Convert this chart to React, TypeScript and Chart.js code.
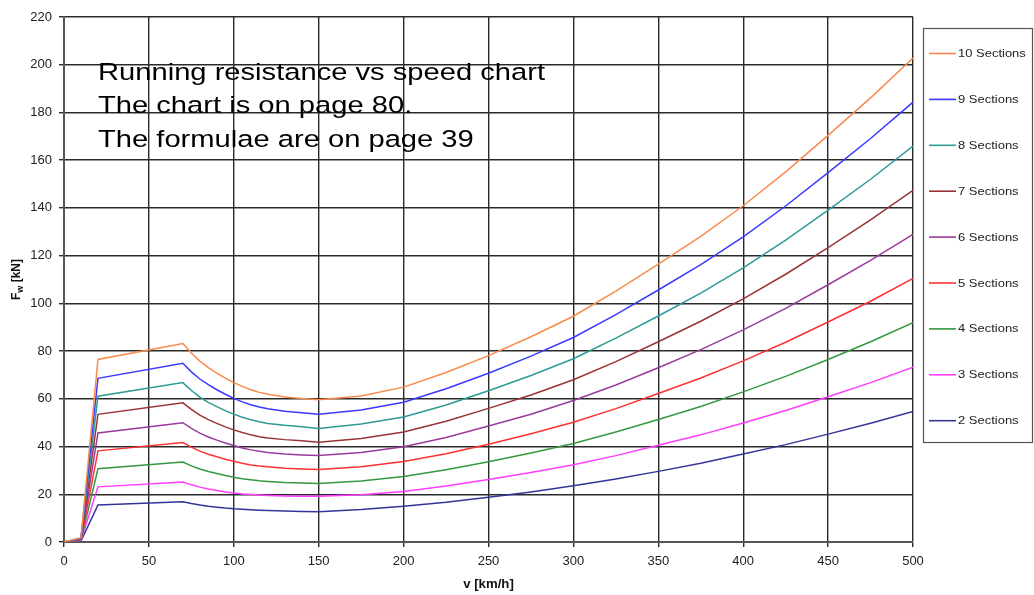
import React, { useEffect, useRef } from "react";
import { Chart, registerables } from "chart.js";

Chart.register(...registerables);

// Speeds (km/h) at which the curves were read
const SPEEDS = [0, 10, 20, 70, 75, 80, 85, 90, 95, 100, 105, 110, 115, 120, 130, 140, 150, 175, 200, 225, 250, 275, 300, 325, 350, 375, 400, 425, 450, 475, 500];

// Running resistance F_w (kN) per number of sections
const S10 = [0, 1.8, 76.5, 83.2, 79.2, 75.8, 73.1, 70.8, 68.7, 66.8, 65.2, 63.8, 62.7, 61.9, 60.8, 60.1, 59.6, 61.2, 64.9, 71.0, 78.1, 86.0, 94.6, 105.1, 116.4, 128.1, 140.9, 155.1, 170.4, 186.1, 202.8];
const S9 = [0, 1.6, 68.6, 74.9, 71.3, 68.3, 65.9, 63.8, 61.9, 60.2, 58.7, 57.5, 56.55, 55.8, 54.8, 54.2, 53.5, 55.3, 58.6, 64.2, 70.7, 77.9, 85.7, 95.3, 105.6, 116.2, 127.9, 140.8, 154.8, 169.1, 184.3];
const S8 = [0, 1.4, 61.1, 66.8, 63.5, 60.7, 58.5, 56.7, 55.05, 53.6, 52.3, 51.2, 50.35, 49.7, 48.9, 48.3, 47.6, 49.4, 52.4, 57.4, 63.4, 69.8, 76.8, 85.4, 94.7, 104.3, 114.9, 126.5, 139.1, 152.0, 165.9];
const S7 = [0, 1.3, 53.5, 58.3, 55.55, 53.2, 51.3, 49.7, 48.25, 47.0, 45.85, 44.9, 44.15, 43.6, 42.9, 42.4, 41.8, 43.4, 46.1, 50.6, 56.0, 61.6, 68.0, 75.6, 83.9, 92.5, 101.9, 112.2, 123.4, 135.0, 147.4];
const S6 = [0, 1.1, 45.7, 50.0, 47.6, 45.6, 44.0, 42.7, 41.5, 40.4, 39.4, 38.6, 38.0, 37.5, 36.9, 36.5, 36.2, 37.5, 39.9, 43.8, 48.6, 53.5, 59.3, 65.8, 73.0, 80.6, 88.9, 97.9, 107.8, 118.0, 128.9];
const S5 = [0, 0.9, 38.2, 41.7, 39.75, 38.1, 36.8, 35.7, 34.7, 33.8, 33.0, 32.3, 31.85, 31.5, 30.9, 30.6, 30.4, 31.5, 33.7, 37.0, 41.0, 45.4, 50.2, 55.9, 62.2, 68.7, 75.9, 83.7, 92.2, 100.9, 110.5];
const S4 = [0, 0.7, 30.7, 33.5, 31.9, 30.6, 29.55, 28.7, 27.85, 27.1, 26.55, 26.1, 25.7, 25.4, 24.9, 24.7, 24.5, 25.6, 27.4, 30.3, 33.6, 37.3, 41.3, 46.1, 51.3, 56.8, 62.9, 69.4, 76.5, 83.9, 91.9];
const S3 = [0, 0.6, 23.1, 25.1, 23.95, 23.0, 22.25, 21.6, 21.0, 20.5, 20.15, 19.9, 19.67, 19.5, 19.3, 19.2, 19.2, 19.8, 21.2, 23.5, 26.2, 29.1, 32.4, 36.2, 40.5, 44.9, 49.9, 55.1, 60.9, 66.8, 73.2];
const S2 = [0, 0.4, 15.5, 16.9, 16.15, 15.5, 15.0, 14.6, 14.2, 13.9, 13.7, 13.5, 13.35, 13.2, 13.0, 12.8, 12.7, 13.6, 15.0, 16.7, 18.8, 21.0, 23.6, 26.4, 29.6, 33.0, 36.9, 40.8, 45.2, 49.8, 54.7];

const SERIES_LABELS = ["10 Sections", "9 Sections", "8 Sections", "7 Sections", "6 Sections", "5 Sections", "4 Sections", "3 Sections", "2 Sections"];
const SERIES_VALUES = [S10, S9, S8, S7, S6, S5, S4, S3, S2];
const SERIES_COLORS = ["#FA8A4C", "#3A3AFF", "#2E9A96", "#9A3434", "#9A3A9E", "#FF3030", "#34983E", "#FF3CFF", "#34349A"];

const NOTE_LINES = ["Running resistance vs speed chart", "The chart is on page 80.", "The formulae are on page 39"];
const X_TITLE = "v [km/h]";
const Y_TITLE = ["F", "w", " [kN]"];

const FONT = '"Liberation Sans", Arial, Helvetica, sans-serif';

const overlayPlugin = {
  id: "overlay",
  afterDraw(chart: any) {
    const ctx: CanvasRenderingContext2D = chart.ctx;
    const area = chart.chartArea;

    // Note text
    ctx.save();
    ctx.fillStyle = "#000";
    ctx.font = `24.5px ${FONT}`;
    ctx.textBaseline = "alphabetic";
    const w0 = ctx.measureText(NOTE_LINES[0]).width;
    const sx = 447 / w0;
    NOTE_LINES.forEach((t, i) => {
      ctx.save();
      ctx.translate(98, 79.5 + i * 33.6);
      ctx.scale(sx, 1);
      ctx.fillText(t, 0, 0);
      ctx.restore();
    });
    ctx.restore();

    // Legend box
    ctx.save();
    const lx = 923.5, ly = 28.5, lw = 109, lh = 414;
    ctx.fillStyle = "#fff";
    ctx.fillRect(lx, ly, lw, lh);
    ctx.strokeStyle = "#555";
    ctx.lineWidth = 1.2;
    ctx.strokeRect(lx, ly, lw, lh);
    chart.data.datasets.forEach((ds: any, i: number) => {
      const y = 53.5 + i * 45.9;
      ctx.strokeStyle = ds.borderColor;
      ctx.lineWidth = 1.6;
      ctx.beginPath();
      ctx.moveTo(929, y);
      ctx.lineTo(956, y);
      ctx.stroke();
      ctx.save();
      ctx.translate(958, y + 0.5);
      ctx.scale(1.18, 1);
      ctx.fillStyle = "#222";
      ctx.font = `11px ${FONT}`;
      ctx.textBaseline = "middle";
      ctx.fillText(ds.label, 0, 0);
      ctx.restore();
    });
    ctx.restore();

    // X title
    ctx.save();
    ctx.fillStyle = "#111";
    ctx.font = `bold 12px ${FONT}`;
    ctx.textBaseline = "middle";
    const xw = ctx.measureText(X_TITLE).width * 1.1;
    ctx.translate((area.left + area.right) / 2 - xw / 2, 585);
    ctx.scale(1.1, 1);
    ctx.fillText(X_TITLE, 0, 0);
    ctx.restore();

    // Y title (rotated, with subscript)
    ctx.save();
    ctx.fillStyle = "#111";
    ctx.textBaseline = "alphabetic";
    ctx.font = `bold 12px ${FONT}`;
    const wF = ctx.measureText(Y_TITLE[0]).width;
    const wU = ctx.measureText(Y_TITLE[2]).width;
    ctx.font = `bold 9px ${FONT}`;
    const wS = ctx.measureText(Y_TITLE[1]).width;
    const total = wF + wS + wU;
    ctx.translate(20, (area.top + area.bottom) / 2 + total / 2);
    ctx.rotate(-Math.PI / 2);
    ctx.font = `bold 12px ${FONT}`;
    ctx.fillText(Y_TITLE[0], 0, 0);
    ctx.font = `bold 9px ${FONT}`;
    ctx.fillText(Y_TITLE[1], wF, 3);
    ctx.font = `bold 12px ${FONT}`;
    ctx.fillText(Y_TITLE[2], wF + wS, 0);
    ctx.restore();
  },
};

export default function App() {
  const ref = useRef<HTMLCanvasElement | null>(null);

  useEffect(() => {
    if (!ref.current) return;
    const datasets = SERIES_LABELS.map((label, i) => ({
      label,
      data: SPEEDS.map((v, j) => ({ x: v, y: SERIES_VALUES[i][j] })),
      borderColor: SERIES_COLORS[i],
      backgroundColor: SERIES_COLORS[i],
      borderWidth: 1.5,
      pointRadius: 0,
      tension: 0,
      fill: false,
    }));

    const chart = new Chart(ref.current, {
      type: "line",
      data: { datasets },
      options: {
        animation: false,
        responsive: false,
        maintainAspectRatio: false,
        layout: { padding: { left: 0, right: 121, top: 17, bottom: 0 } },
        plugins: {
          legend: { display: false },
          tooltip: { enabled: false },
          title: { display: false },
        },
        scales: {
          x: {
            type: "linear",
            min: 0,
            max: 500,
            ticks: {
              stepSize: 50,
              color: "#222",
              font: { family: FONT, size: 13 },
              padding: 7,
              maxRotation: 0,
            },
            grid: { color: "#2a2a2a", lineWidth: 1.4, tickLength: 5, drawTicks: true },
            border: { display: true, color: "#555", width: 2 },
            afterFit: (s: any) => { s.height = 53; },
          },
          y: {
            type: "linear",
            min: 0,
            max: 220,
            ticks: {
              stepSize: 20,
              color: "#222",
              font: { family: FONT, size: 13 },
              padding: 7,
            },
            grid: { color: "#2a2a2a", lineWidth: 1.4, tickLength: 5, drawTicks: true },
            border: { display: true, color: "#555", width: 2 },
            afterFit: (s: any) => { s.width = 64; },
          },
        },
      },
      plugins: [overlayPlugin],
    });
    return () => chart.destroy();
  }, []);

  return (
    <div style={{ position: "fixed", left: 0, top: 0, width: 1034, height: 595, background: "#fff" }}>
      <canvas ref={ref} width={1034} height={595} style={{ display: "block" }} />
    </div>
  );
}
